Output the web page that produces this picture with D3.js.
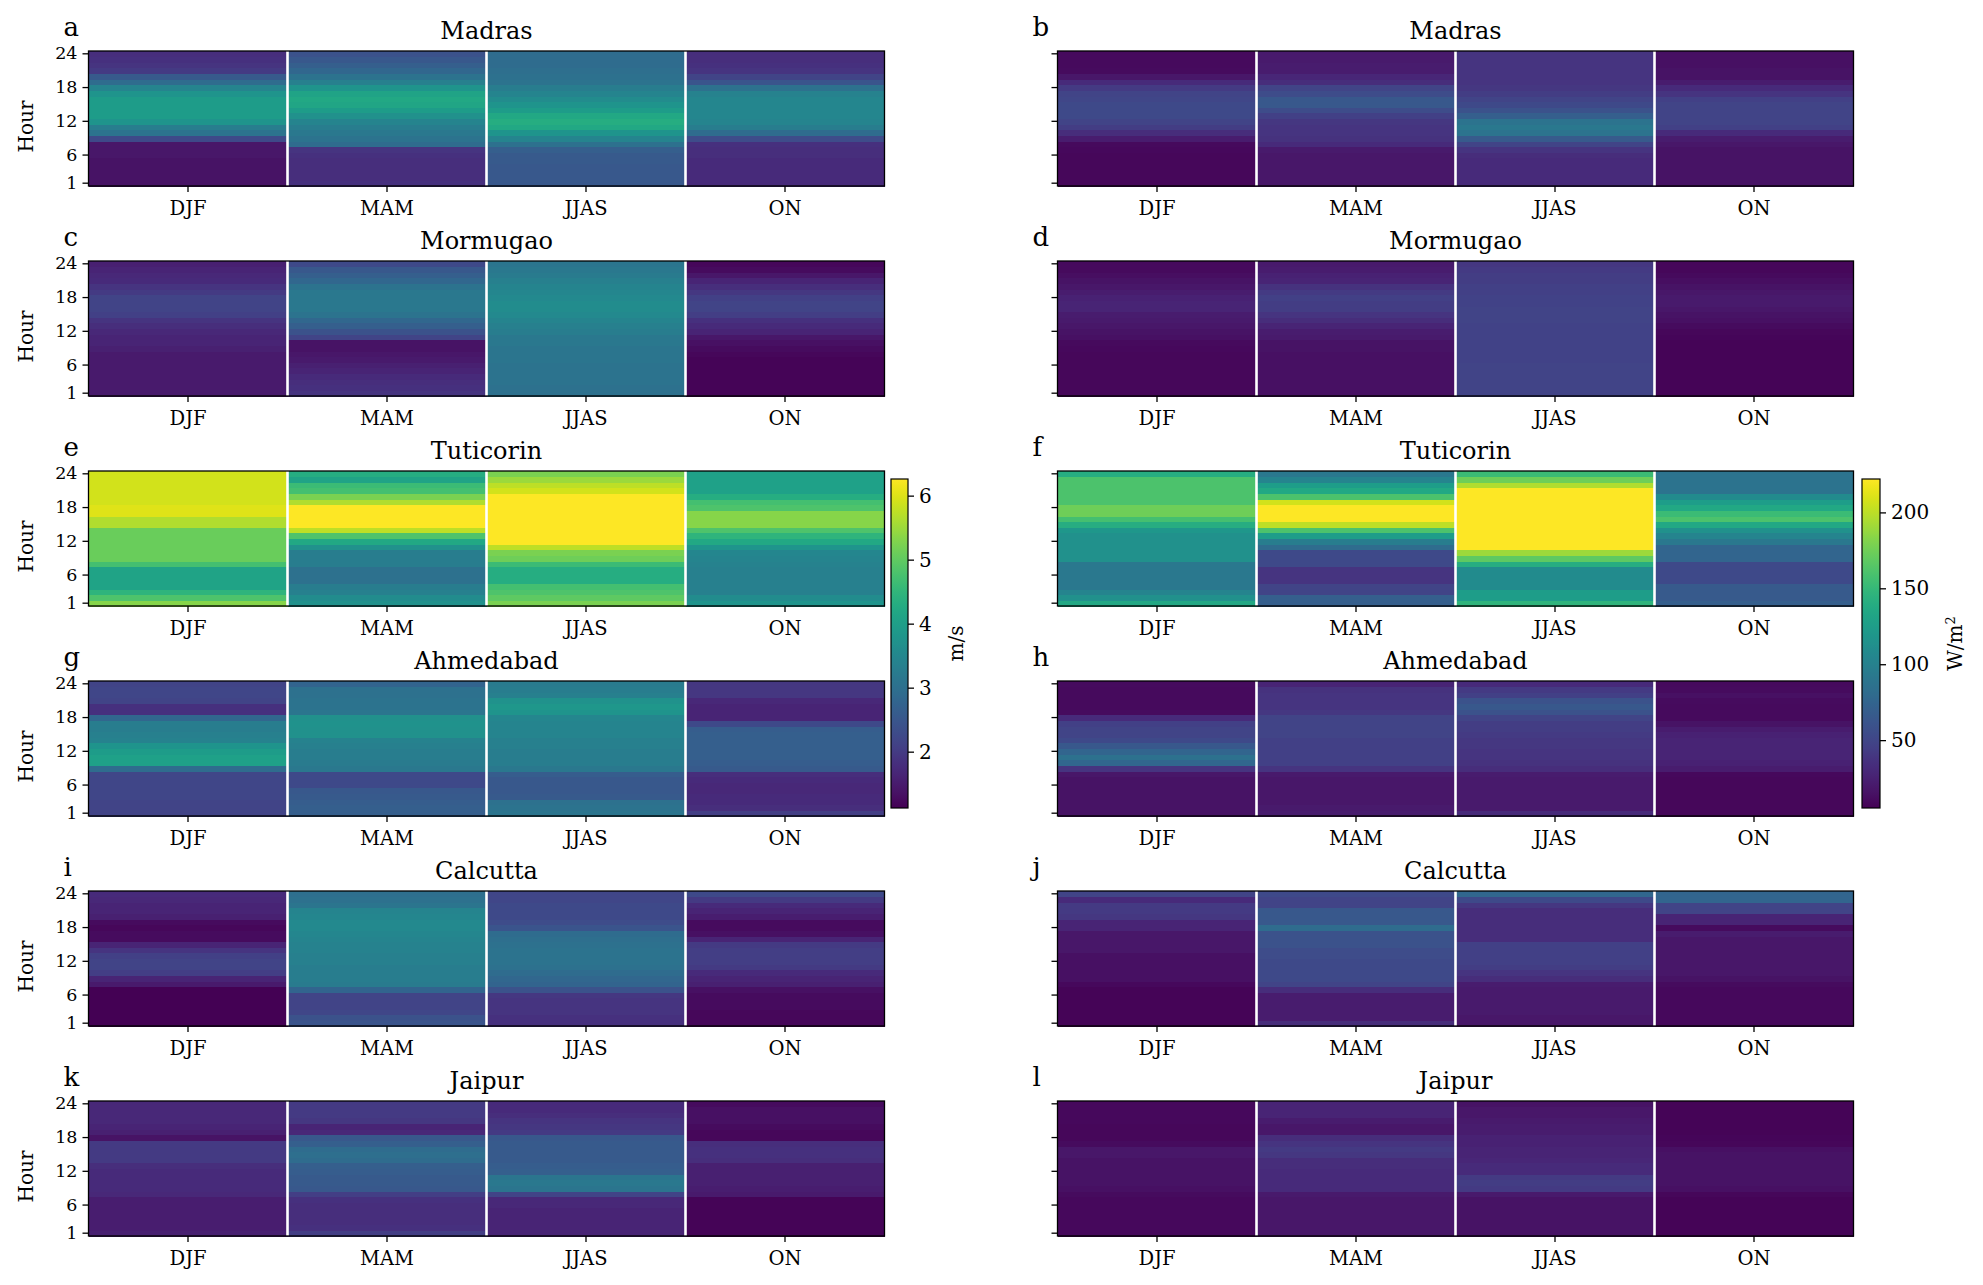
<!DOCTYPE html>
<html>
<head>
<meta charset="utf-8">
<script src="https://cdn.jsdelivr.net/npm/d3@7"></script>
<style>
  body { margin: 0; background: #fff; }
  svg { display: block; }
  text { font-family: "DejaVu Serif", serif; fill: #000; }
</style>
</head>
<body>
<div id="container"></div>
<script>
// ---- data ----
const seasons = ["DJF", "MAM", "JJAS", "ON"];
const hours = [1, 2, 3, 4, 5, 6, 7, 8, 9, 10, 11, 12, 13, 14, 15, 16, 17, 18, 19, 20, 21, 22, 23, 24];
const hourTicks = [1, 6, 12, 18, 24];
const stations = ["Madras", "Mormugao", "Tuticorin", "Ahmedabad", "Calcutta", "Jaipur"];
const letters = ["a", "b", "c", "d", "e", "f", "g", "h", "i", "j", "k", "l"];
const windRange = [1.12, 6.26];
const solarRange = [5.3, 222];
const windTicks = [2, 3, 4, 5, 6];
const solarTicks = [50, 100, 150, 200];

// wind speed (m/s), one array per season, hours 1..24
const madrasWind = [
  [1.38,1.38,1.38,1.38,1.38,1.43,1.43,1.43,2.25,3.07,3.28,3.79,3.95,3.95,3.95,3.95,3.79,3.43,2.92,2.56,1.99,1.89,1.84,1.79],
  [1.84,1.79,1.79,1.79,1.79,1.84,1.89,2.92,3.07,3.18,3.28,3.43,3.69,3.95,4.15,4.2,4.1,3.79,3.33,3.07,2.82,2.66,2.51,2.41],
  [2.51,2.51,2.51,2.51,2.56,2.56,2.66,3.02,3.43,3.79,4.2,4.31,4.2,3.95,3.79,3.59,3.43,3.28,3.07,3.02,2.97,2.92,2.92,2.92],
  [1.74,1.74,1.74,1.74,1.74,1.79,1.79,1.84,2.3,2.92,3.28,3.43,3.48,3.48,3.48,3.48,3.38,3.02,2.46,2.15,1.89,1.84,1.79,1.79]
];
const mormugaoWind = [
  [1.48,1.48,1.48,1.48,1.48,1.48,1.48,1.48,1.58,1.63,1.63,1.69,1.79,1.89,2.1,2.15,2.15,2.15,1.99,1.89,1.74,1.69,1.63,1.58],
  [1.89,1.84,1.79,1.74,1.63,1.58,1.48,1.43,1.38,1.38,2.15,2.41,2.66,2.82,3.07,3.18,3.18,3.18,3.18,3.07,2.82,2.66,2.51,2.25],
  [3.02,3.02,3.07,3.07,3.07,3.07,3.12,3.12,3.12,3.18,3.18,3.28,3.33,3.43,3.54,3.59,3.59,3.54,3.48,3.43,3.33,3.23,3.18,3.12],
  [1.17,1.17,1.17,1.17,1.17,1.17,1.17,1.22,1.27,1.33,1.43,1.63,1.74,1.84,2.05,2.15,2.15,2.1,1.94,1.79,1.63,1.43,1.27,1.22]
];
const tuticorinWind = [
  [5.33,4.82,4.46,4.1,4.1,4.1,4.1,4.72,5.08,5.08,5.08,5.08,5.08,5.08,5.64,5.64,6.0,6.0,5.9,5.9,5.9,5.9,5.9,5.9],
  [3.69,3.59,3.33,3.28,3.02,3.02,3.02,3.28,3.28,3.28,3.69,4.2,4.82,5.75,6.26,6.26,6.26,6.26,5.64,5.23,4.72,4.62,4.1,4.31],
  [5.23,4.98,4.82,4.72,4.31,4.31,4.31,4.62,5.13,5.23,5.75,6.26,6.26,6.26,6.26,6.26,6.26,6.26,6.26,6.26,5.9,5.75,5.49,5.23],
  [3.79,3.59,3.33,3.33,3.33,3.33,3.33,3.38,3.43,3.48,3.79,4.2,4.46,4.82,5.33,5.33,5.33,4.82,4.72,4.31,4.05,4.05,4.05,4.05]
];
const ahmedabadWind = [
  [2.15,2.15,2.15,2.2,2.2,2.2,2.2,2.2,2.92,4.05,4.05,3.95,3.79,3.38,3.33,3.28,3.28,2.82,1.84,1.84,2.15,2.2,2.2,2.15],
  [2.66,2.66,2.61,2.56,2.51,2.25,2.25,2.25,3.18,3.23,3.28,3.28,3.33,3.38,3.69,3.69,3.74,3.69,3.12,3.07,3.07,3.02,3.02,2.76],
  [3.12,3.07,3.02,2.56,2.51,2.51,2.51,2.61,3.18,3.28,3.28,3.28,3.33,3.33,3.43,3.43,3.43,3.48,3.79,3.84,3.74,3.33,3.28,3.23],
  [2.05,1.79,1.74,1.74,1.69,1.69,1.74,1.79,2.56,2.61,2.66,2.66,2.66,2.66,2.66,2.61,2.25,1.63,1.63,1.63,1.69,1.94,1.94,1.94]
];
const calcuttaWind = [
  [1.12,1.12,1.12,1.12,1.12,1.12,1.12,1.48,1.63,2.05,2.15,2.15,2.1,1.89,1.63,1.27,1.27,1.22,1.27,1.58,1.63,1.63,1.69,1.74],
  [2.46,2.41,2.2,2.15,2.15,2.15,2.76,3.23,3.28,3.28,3.28,3.33,3.33,3.38,3.38,3.43,3.48,3.54,3.54,3.48,3.43,3.12,3.02,2.97],
  [1.84,1.84,1.89,1.89,1.89,1.94,2.41,2.76,2.82,2.92,3.02,3.07,3.07,3.07,3.02,2.97,2.92,2.46,2.3,2.25,2.25,2.25,2.2,2.2],
  [1.22,1.22,1.22,1.27,1.27,1.27,1.33,1.58,1.63,1.74,2.0,2.05,2.05,2.05,1.99,1.63,1.33,1.27,1.27,1.53,1.63,1.74,1.99,2.25]
];
const jaipurWind = [
  [1.58,1.53,1.53,1.53,1.53,1.53,1.53,1.69,1.74,1.74,1.74,1.74,1.79,1.99,1.99,1.99,1.99,1.38,1.58,1.63,1.69,1.69,1.69,1.69],
  [2.05,1.84,1.79,1.79,1.79,1.79,1.84,2.05,2.51,2.56,2.56,2.61,2.66,2.92,2.97,2.92,2.66,2.51,1.69,1.63,1.94,1.99,1.99,1.99],
  [1.63,1.63,1.63,1.63,1.63,1.69,1.69,2.15,3.12,3.18,3.12,2.66,2.61,2.56,2.56,2.56,2.56,2.51,1.99,1.94,1.89,1.79,1.74,1.74],
  [1.17,1.17,1.17,1.17,1.17,1.17,1.17,1.48,1.53,1.58,1.58,1.58,1.58,1.79,1.84,1.84,1.79,1.22,1.22,1.27,1.33,1.33,1.33,1.27]
];

// solar (W/m2), one array per season, hours 1..24
const madrasSolar = [
  [9,9,9,9,9,9,10,11,22,33,44,49,53,53,53,51,49,42,31,18,12,11,11,11],
  [18,18,18,18,18,18,20,31,36,38,38,40,46,55,64,64,55,49,33,29,22,22,20,20],
  [31,31,31,31,31,33,38,49,66,88,92,88,70,60,53,49,44,40,38,38,38,38,38,38],
  [16,16,16,16,16,16,16,18,22,31,46,49,49,49,49,46,38,31,22,16,16,14,14,14]
];
const mormugaoSolar = [
  [9,9,9,9,9,9,9,9,10,11,14,16,18,20,22,27,27,25,22,18,16,13,11,11],
  [14,14,14,14,14,14,14,14,16,16,20,22,27,33,38,44,44,46,42,36,27,25,22,20],
  [49,49,49,49,49,49,48,48,48,48,48,48,48,49,49,49,48,48,46,46,44,44,42,40],
  [7,7,7,7,7,7,7,7,7,7,8,9,12,14,16,18,20,20,18,16,13,11,9,9]
];
const tuticorinSolar = [
  [135,114,103,92,92,92,92,92,114,114,114,114,114,120,140,157,174,174,161,161,161,161,161,140],
  [70,70,49,49,38,38,38,53,53,53,81,96,125,161,200,222,222,222,207,161,135,125,103,92],
  [146,125,125,109,109,109,109,140,168,190,222,222,222,222,222,222,222,222,222,222,222,196,174,153],
  [70,66,66,66,53,53,53,53,75,75,75,92,103,114,135,161,153,135,125,109,88,88,88,88]
];
const ahmedabadSolar = [
  [16,16,16,16,16,16,16,18,38,77,85,75,64,53,49,49,46,31,12,11,11,11,11,12],
  [22,20,18,18,18,18,18,20,38,46,46,46,46,46,49,49,49,49,40,38,38,38,36,27],
  [31,20,20,20,20,20,20,22,33,36,38,38,40,40,42,44,44,49,60,64,60,46,42,31],
  [9,9,9,9,9,9,9,10,22,25,27,27,27,27,25,22,16,11,11,11,12,14,12,11]
];
const calcuttaSolar = [
  [7,7,7,7,7,7,7,10,14,14,14,14,14,18,18,18,18,27,27,40,42,42,31,49],
  [33,22,22,22,22,22,33,49,53,53,53,53,55,55,60,60,60,81,64,64,64,49,49,53],
  [18,18,20,20,20,20,20,22,33,38,44,46,46,46,46,33,33,33,33,33,33,40,53,77],
  [10,10,10,10,10,10,10,12,16,18,18,18,18,18,18,18,22,12,27,27,49,49,75,75]
];
const jaipurSolar = [
  [10,10,10,10,10,10,10,12,14,16,16,16,16,16,18,18,12,9,9,9,10,10,10,10],
  [18,18,18,18,18,18,18,20,31,31,31,31,33,33,40,42,38,33,18,18,22,27,27,27],
  [16,16,16,16,16,16,16,20,42,44,42,31,31,29,27,27,25,25,22,22,20,18,18,16],
  [7,7,7,7,7,7,7,9,14,16,16,16,16,16,16,14,9,8,7,7,7,7,7,7]
];

const windPanels = [madrasWind, mormugaoWind, tuticorinWind, ahmedabadWind, calcuttaWind, jaipurWind];
const solarPanels = [madrasSolar, mormugaoSolar, tuticorinSolar, ahmedabadSolar, calcuttaSolar, jaipurSolar];

// ---- layout ----
const width = 1983, height = 1285;
const colX = [88.5, 1057.5];
const plotW = 796, plotH = 135;
const rowY0 = 51, rowStep = 210;
const cbBox = [{ x: 891, w: 17, labelOff: 55 }, { x: 1862, w: 18, labelOff: 82 }];
const cbTop = 479, cbH = 329;
const serif = '"DejaVu Serif", serif';

const windColor = d3.scaleSequential(d3.interpolateViridis).domain(windRange).clamp(true);
const solarColor = d3.scaleSequential(d3.interpolateViridis).domain(solarRange).clamp(true);

const svg = d3.select("#container").append("svg")
  .attr("width", width)
  .attr("height", height);

const x = d3.scaleBand().domain(seasons).range([0, plotW]);
const y = d3.scaleBand().domain(hours).range([plotH, 0]);

function drawPanel(col, row, data, color) {
  const g = svg.append("g")
    .attr("transform", `translate(${colX[col]},${rowY0 + row * rowStep})`);

  const cells = seasons.flatMap((s, i) => hours.map((h, j) => ({ s, h, v: data[i][j] })));
  g.selectAll("rect.cell")
    .data(cells)
    .join("rect")
    .attr("class", "cell")
    .attr("x", d => x(d.s))
    .attr("y", d => y(d.h))
    .attr("width", x.bandwidth())
    .attr("height", y.bandwidth() + 0.5)
    .attr("shape-rendering", "crispEdges")
    .attr("fill", d => color(d.v));

  // white season separators
  g.selectAll("line.sep")
    .data(seasons.slice(1))
    .join("line")
    .attr("class", "sep")
    .attr("x1", d => x(d)).attr("x2", d => x(d))
    .attr("y1", 0).attr("y2", plotH)
    .attr("stroke", "#fff")
    .attr("stroke-width", 2.6);

  const yAxis = d3.axisLeft(y).tickValues(hourTicks).tickSize(6).tickPadding(5);
  if (col === 1) yAxis.tickFormat("");
  const ya = g.append("g").call(yAxis);
  ya.select(".domain").remove();
  ya.selectAll("text").style("font-family", serif).style("font-size", "17.5px");
  ya.selectAll("line").attr("stroke-width", 1.3);

  const xa = g.append("g").attr("transform", `translate(0,${plotH})`)
    .call(d3.axisBottom(x).tickSize(6).tickPadding(9));
  xa.select(".domain").remove();
  xa.selectAll("text").style("font-family", serif).style("font-size", "19.5px");
  xa.selectAll("line").attr("stroke-width", 1.3);

  g.append("rect")
    .attr("width", plotW).attr("height", plotH)
    .attr("fill", "none").attr("stroke", "#000").attr("stroke-width", 1.3);

  g.append("text")
    .attr("x", plotW / 2).attr("y", -12)
    .attr("text-anchor", "middle")
    .style("font-size", "24px")
    .text(stations[row]);

  g.append("text")
    .attr("x", -25).attr("y", -15)
    .style("font-size", "26px")
    .text(letters[row * 2 + col]);

  if (col === 0) {
    g.append("text")
      .attr("transform", `translate(${33 - colX[0]},${plotH / 2 + 8}) rotate(-90)`)
      .attr("text-anchor", "middle")
      .style("font-size", "20px")
      .text("Hour");
  }
}

stations.forEach((s, r) => {
  drawPanel(0, r, windPanels[r], windColor);
  drawPanel(1, r, solarPanels[r], solarColor);
});

// ---- colorbars ----
const defs = svg.append("defs");
const grad = defs.append("linearGradient").attr("id", "viridis")
  .attr("x1", 0).attr("y1", 1).attr("x2", 0).attr("y2", 0);
grad.selectAll("stop")
  .data(d3.range(0, 1.0001, 0.02))
  .join("stop")
  .attr("offset", d => d)
  .attr("stop-color", d => d3.interpolateViridis(d));

function drawColorbar(box, domain, ticks, label, sup) {
  const g = svg.append("g").attr("transform", `translate(${box.x},${cbTop})`);
  g.append("rect").attr("width", box.w).attr("height", cbH).attr("fill", "url(#viridis)");
  const sc = d3.scaleLinear().domain(domain).range([cbH, 0]);
  const a = g.append("g").attr("transform", `translate(${box.w},0)`)
    .call(d3.axisRight(sc).tickValues(ticks).tickFormat(d3.format("d")).tickSize(6).tickPadding(5));
  a.select(".domain").remove();
  a.selectAll("text").style("font-family", serif).style("font-size", "20px");
  a.selectAll("line").attr("stroke-width", 1.3);
  g.append("rect").attr("width", box.w).attr("height", cbH)
    .attr("fill", "none").attr("stroke", "#000").attr("stroke-width", 1.2);
  const t = g.append("text")
    .attr("transform", `translate(${box.w + box.labelOff},${cbH / 2}) rotate(-90)`)
    .attr("text-anchor", "middle")
    .style("font-size", "20px")
    .text(label);
  if (sup) t.append("tspan").attr("baseline-shift", "super").style("font-size", "13px").text(sup);
}

drawColorbar(cbBox[0], windRange, windTicks, "m/s");
drawColorbar(cbBox[1], solarRange, solarTicks, "W/m", "2");
</script>
</body>
</html>
